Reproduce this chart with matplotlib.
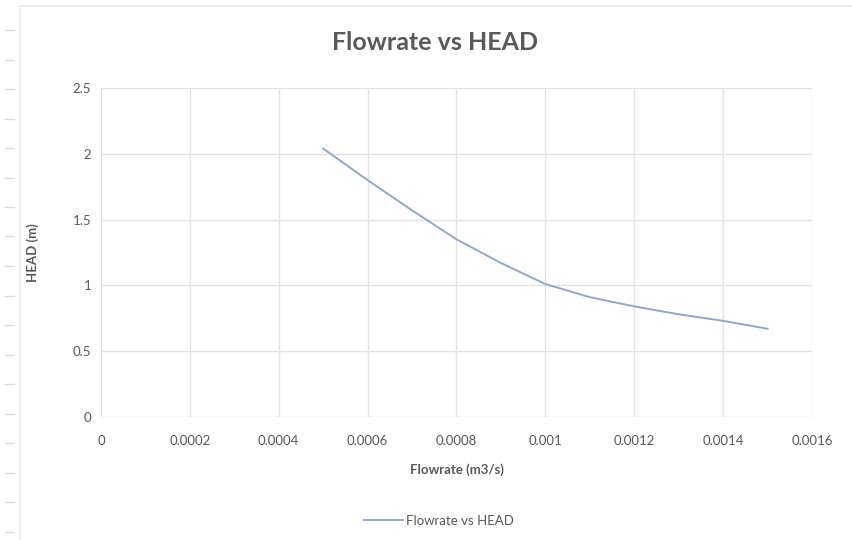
import matplotlib.pyplot as plt
from matplotlib.lines import Line2D

plt.rcParams['font.family'] = ['Lato', 'DejaVu Sans']

# pump test readings
flowrate = [0.0005, 0.0006, 0.0007, 0.0008, 0.0009, 0.0010,
            0.0011, 0.0012, 0.0013, 0.0014, 0.0015]
head = [2.04, 1.80, 1.57, 1.35, 1.17, 1.01, 0.91, 0.84, 0.78, 0.73, 0.67]

x_ticks = [0, 0.0002, 0.0004, 0.0006, 0.0008, 0.001, 0.0012, 0.0014, 0.0016]
x_tick_labels = ["0", "0.0002", "0.0004", "0.0006", "0.0008", "0.001",
                 "0.0012", "0.0014", "0.0016"]
y_ticks = [0, 0.5, 1, 1.5, 2, 2.5]
y_tick_labels = ["0", "0.5", "1", "1.5", "2", "2.5"]

text_col = "#595959"
grid_col = "#e3e3e3"
line_col = "#8fa7d0"

fig = plt.figure(figsize=(8.52, 5.4), dpi=100)
ax = fig.add_axes([0.1185, 0.228, 0.8345, 0.609])

ax.plot(flowrate, head, color=line_col, linewidth=1.4, label="Flowrate vs HEAD")

ax.set_xlim(0, 0.0016)
ax.set_ylim(0, 2.5)
ax.set_xticks(x_ticks)
ax.set_xticklabels(x_tick_labels)
ax.set_yticks(y_ticks)
ax.set_yticklabels(y_tick_labels)
ax.tick_params(length=0, labelsize=9.5, labelcolor=text_col)
ax.tick_params(axis="x", pad=13)
ax.tick_params(axis="y", pad=7)
ax.grid(True, color=grid_col, linewidth=1)
ax.set_axisbelow(True)
for s in ax.spines.values():
    s.set_visible(False)

ax.set_xlabel("Flowrate (m3/s)", fontsize=9.5, color=text_col, fontweight="bold", labelpad=12)
ax.set_ylabel("HEAD (m)", fontsize=9.5, color=text_col, fontweight="bold", labelpad=24)

fig.text(0.511, 0.922, "Flowrate vs HEAD", ha="center", va="center",
         fontsize=18, fontweight="bold", color=text_col)

ax.legend(loc="center", bbox_to_anchor=(0.515, 0.035), bbox_transform=fig.transFigure,
          frameon=False, fontsize=9.5, labelcolor=text_col, handlelength=3.0,
          handletextpad=0.2)

# page frame and ruler marks along the left edge
fig.add_artist(Line2D([0.0235, 1.0], [0.989, 0.989], color="#e6e6e6", lw=1.2))
fig.add_artist(Line2D([0.0235, 0.0235], [0.0, 0.989], color="#ececec", lw=1.2))
for k in range(18):
    yy = 1 - (30 + 29.5 * k) / 540
    if yy > 0:
        fig.add_artist(Line2D([0.006, 0.016], [yy, yy], color="#dcdcdc", lw=1))

fig.savefig("out.png", dpi=100)
